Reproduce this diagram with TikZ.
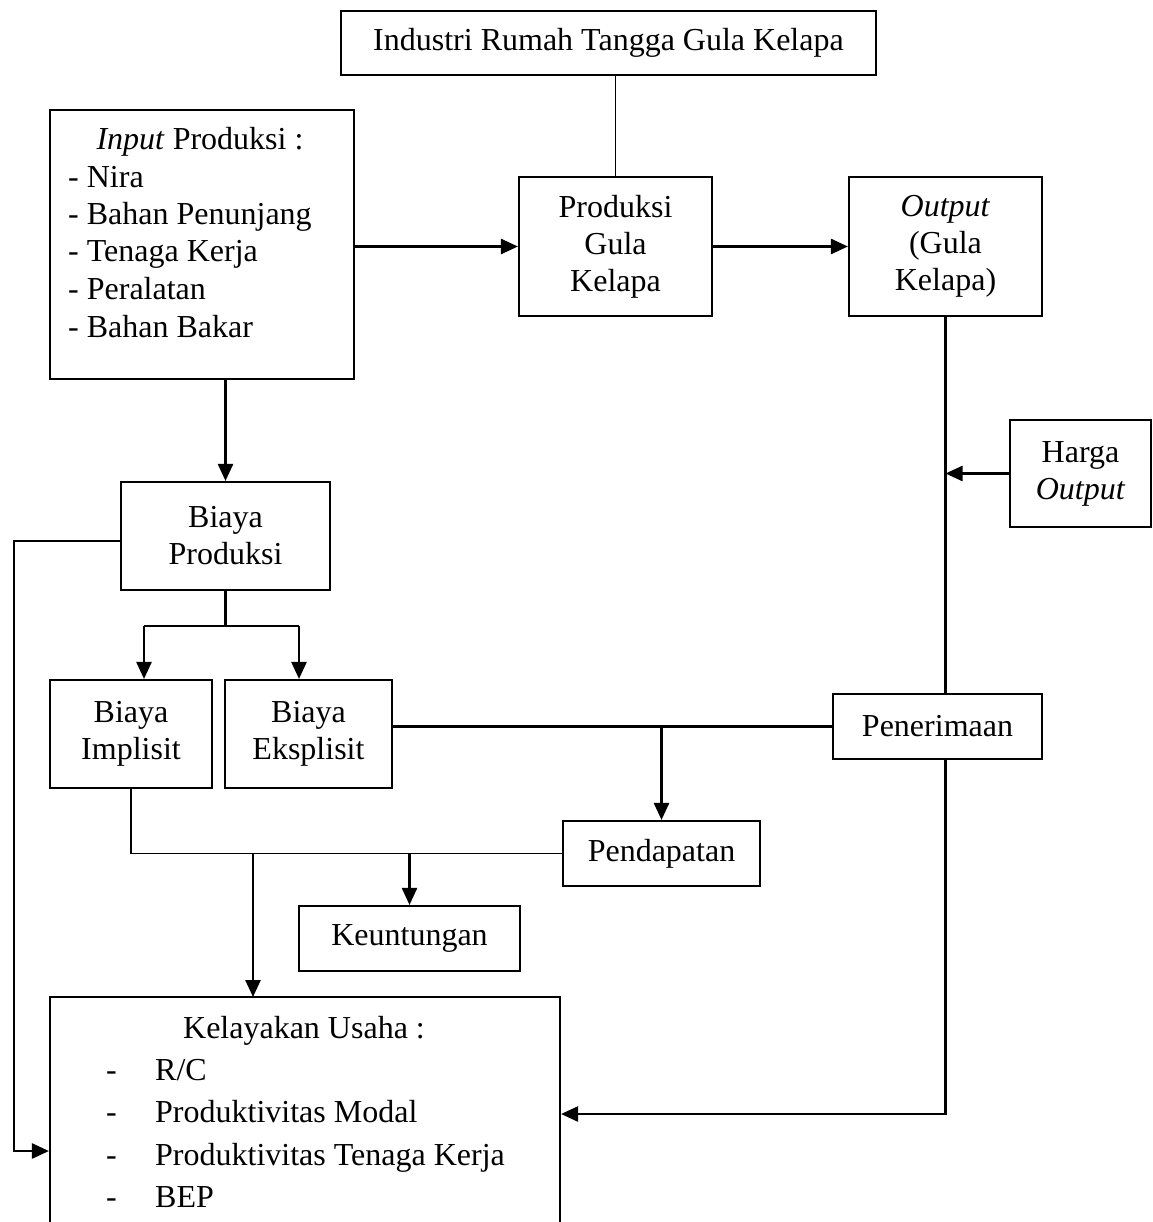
\documentclass[tikz,border=0pt]{standalone}
\usepackage{fontspec}
\setmainfont{Liberation Serif}
\usetikzlibrary{arrows.meta}
\newcommand{\fsz}{\fontsize{32}{37}\selectfont}
\begin{document}
\begin{tikzpicture}[x=1pt,y=-1pt,
  box/.style={draw, line width=2.1pt, inner sep=0pt, align=center, font=\fsz},
  txt/.style={inner sep=0pt, font=\fsz},
  conn/.style={line width=2.5pt},
  thinln/.style={line width=1.7pt},
  arr/.style={line width=2.5pt, -{Triangle[length=17pt,width=15pt]}},
]
\useasboundingbox (0,0) rectangle (1152,1222);
\fill[white] (0,0) rectangle (1152,1222);
\begin{scope}
\clip (0,0) rectangle (1152,1222);
% boxes
\node[box, minimum width=535pt, minimum height=64pt] (top) at (608.5,43) {Industri Rumah Tangga Gula Kelapa};
\node[box, minimum width=304pt, minimum height=269pt] (input) at (202,244.5) {};
\node[box, minimum width=193pt, minimum height=139pt] (prod) at (615.5,246.5) {Produksi\\Gula\\Kelapa};
\node[box, minimum width=193pt, minimum height=139pt] (out) at (945.5,246.5) {\textit{Output}\\(Gula\\Kelapa)};
\node[box, minimum width=141pt, minimum height=107pt] (harga) at (1080.5,473.5) {Harga\\\textit{Output}};
\node[box, minimum width=209pt, minimum height=108pt] (bp) at (225.5,536) {Biaya\\Produksi};
\node[box, minimum width=162pt, minimum height=108pt] (imp) at (131,734) {Biaya\\Implisit};
\node[box, minimum width=167pt, minimum height=108pt] (eks) at (308.5,734) {Biaya\\Eksplisit};
\node[box, minimum width=209pt, minimum height=65pt] (pen) at (937.5,726.5) {Penerimaan};
\node[box, minimum width=197pt, minimum height=65pt] (pend) at (661.5,853.5) {Pendapatan};
\node[box, minimum width=221pt, minimum height=65pt] (keun) at (409.5,938.5) {Keuntungan};
\node[box, minimum width=510pt, minimum height=303pt] (kel) at (305,1148.5) {};
% input text
\node[txt, anchor=base] (i0) at (200,150) {\textit{Input} Produksi :};
\node[txt, anchor=base west] (i1) at (68,188) {- Nira};
\node[txt, anchor=base west] (i2) at (68,225) {- Bahan Penunjang};
\node[txt, anchor=base west] (i3) at (68,262) {- Tenaga Kerja};
\node[txt, anchor=base west] (i4) at (68,299) {- Peralatan};
\node[txt, anchor=base west] (i5) at (68,337) {- Bahan Bakar};
% kelayakan text
\node[txt, anchor=base] (k0) at (304,1038) {Kelayakan Usaha :};
\node[txt, anchor=base west] (kd1) at (106,1080) {-};
\node[txt, anchor=base west] (k1) at (155,1080) {R/C};
\node[txt, anchor=base west] (kd2) at (106,1122) {-};
\node[txt, anchor=base west] (k2) at (155,1122) {Produktivitas Modal};
\node[txt, anchor=base west] (kd3) at (106,1165) {-};
\node[txt, anchor=base west] (k3) at (155,1165) {Produktivitas Tenaga Kerja};
\node[txt, anchor=base west] (kd4) at (106,1207) {-};
\node[txt, anchor=base west] (k4) at (155,1207) {BEP};
% connectors
\draw[thinln] (prod.north) -- (prod.north |- top.south);
\draw[arr] (input.east |- prod.west) -- (prod.west);
\draw[arr] (prod.east) -- (out.west);
\draw[arr] (bp.north |- input.south) -- (bp.north);
\draw[conn] (out.south) -- (out.south |- pen.north);
\draw[arr] (harga.west) -- (harga.west -| out.south);
\coordinate (sp) at (225.5,626);
\coordinate (spI) at (144,626);
\coordinate (spE) at (299,626);
\draw[conn] (bp.south) -- (sp);
\draw[conn] (spI) -- (spE);
\draw[arr] (spI) -- (spI |- imp.north);
\draw[arr] (spE) -- (spE |- eks.north);
\coordinate (bpL) at (14,541);
\coordinate (kelL) at (14,1151);
\draw[arr] (bp.west |- bpL) -- (bpL) -- (kelL) -- (kelL -| kel.west);
\draw[conn] (pen.west) -- (pen.west -| eks.east);
\draw[arr] (pend.north |- pen.west) -- (pend.north);
\draw[thinln] (imp.south) |- (pend.west);
\coordinate (kelTop) at (253,997);
\draw[arr] (kelTop |- pend.west) -- (kelTop);
\draw[arr] (keun.north |- pend.west) -- (keun.north);
\coordinate (penK) at (945.5,1114);
\draw[arr] (out.south |- pen.south) -- (penK) -- (penK -| kel.east);
\end{scope}
\end{tikzpicture}
\end{document}
